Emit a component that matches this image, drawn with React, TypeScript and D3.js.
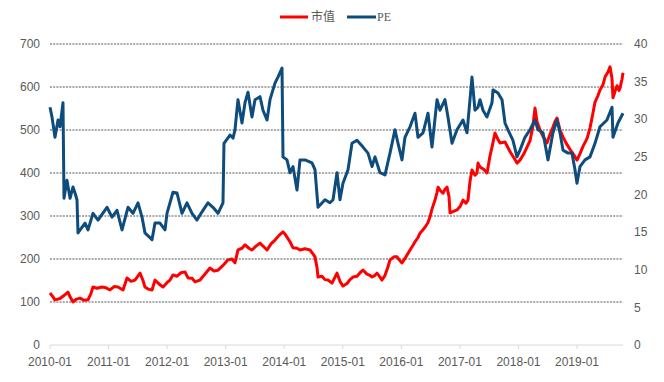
import React from "react";
import * as d3 from "d3";

const START_YEAR = 2010;
const yearTicks = [2010, 2011, 2012, 2013, 2014, 2015, 2016, 2017, 2018, 2019];
const leftTicks = [0, 100, 200, 300, 400, 500, 600, 700];
const rightTicks = [0, 5, 10, 15, 20, 25, 30, 35, 40];

// 市值 (years since 2010-01, value)
const mvT = [0, 0.051, 0.085, 0.171, 0.239, 0.307, 0.342, 0.393, 0.444, 0.512, 0.581, 0.649, 0.7, 0.734, 0.803, 0.888, 0.956, 1.025, 1.093, 1.161, 1.247, 1.315, 1.383, 1.452, 1.537, 1.588, 1.622, 1.674, 1.742, 1.793, 1.861, 1.93, 1.998, 2.049, 2.1, 2.169, 2.237, 2.305, 2.357, 2.425, 2.476, 2.562, 2.647, 2.732, 2.801, 2.869, 2.954, 3.04, 3.108, 3.159, 3.21, 3.279, 3.33, 3.398, 3.449, 3.518, 3.586, 3.654, 3.706, 3.774, 3.842, 3.911, 3.979, 4.013, 4.047, 4.098, 4.15, 4.218, 4.269, 4.355, 4.44, 4.491, 4.525, 4.56, 4.577, 4.645, 4.696, 4.747, 4.816, 4.867, 4.901, 4.952, 5.003, 5.072, 5.123, 5.174, 5.243, 5.294, 5.345, 5.413, 5.465, 5.499, 5.55, 5.584, 5.635, 5.67, 5.721, 5.772, 5.806, 5.874, 5.926, 5.977, 6.011, 6.079, 6.148, 6.199, 6.233, 6.284, 6.318, 6.37, 6.404, 6.455, 6.489, 6.523, 6.575, 6.609, 6.626, 6.66, 6.711, 6.745, 6.78, 6.814, 6.831, 6.882, 6.95, 7.002, 7.053, 7.104, 7.138, 7.172, 7.206, 7.258, 7.292, 7.309, 7.343, 7.411, 7.463, 7.514, 7.548, 7.599, 7.65, 7.685, 7.77, 7.855, 7.924, 7.975, 8.026, 8.094, 8.146, 8.197, 8.248, 8.282, 8.316, 8.368, 8.419, 8.487, 8.539, 8.59, 8.624, 8.658, 8.709, 8.76, 8.812, 8.88, 8.931, 9.0, 9.051, 9.102, 9.17, 9.222, 9.273, 9.307, 9.358, 9.392, 9.443, 9.478, 9.529, 9.563, 9.597, 9.614, 9.649, 9.683, 9.717, 9.734, 9.768, 9.785];
const mvV = [121, 112, 105, 108, 115, 123, 112, 100, 106, 109, 104, 105, 120, 135, 132, 135, 133, 128, 136, 135, 128, 156, 148, 151, 167, 150, 135, 130, 128, 151, 142, 135, 145, 151, 163, 160, 168, 170, 156, 155, 147, 151, 165, 179, 172, 174, 185, 198, 200, 191, 221, 225, 233, 225, 221, 230, 237, 228, 221, 235, 244, 255, 263, 258, 251, 240, 226, 225, 221, 224, 221, 212, 205, 180, 158, 160, 152, 151, 144, 158, 167, 148, 137, 143, 152, 158, 160, 168, 174, 165, 162, 158, 162, 167, 158, 151, 162, 182, 198, 205, 205, 196, 191, 205, 221, 232, 240, 250, 260, 268, 274, 285, 298, 316, 337, 355, 367, 360, 353, 362, 367, 345, 307, 310, 314, 322, 337, 330, 337, 380, 407, 395, 400, 423, 414, 408, 400, 440, 460, 493, 478, 470, 472, 450, 435, 423, 430, 445, 460, 475, 510, 551, 520, 500, 485, 470, 490, 507, 520, 528, 500, 484, 470, 455, 445, 430, 445, 462, 480, 505, 540, 565, 580, 593, 605, 623, 635, 647, 620, 575, 590, 603, 592, 598, 618, 633];

// PE (years since 2010-01, value)
const peT = [0, 0.034, 0.085, 0.137, 0.171, 0.222, 0.239, 0.29, 0.342, 0.393, 0.427, 0.461, 0.478, 0.598, 0.649, 0.734, 0.82, 0.973, 1.059, 1.144, 1.23, 1.332, 1.417, 1.503, 1.571, 1.622, 1.742, 1.793, 1.878, 1.964, 1.998, 2.1, 2.169, 2.254, 2.339, 2.425, 2.51, 2.596, 2.698, 2.783, 2.869, 2.954, 2.971, 3.074, 3.125, 3.159, 3.21, 3.279, 3.33, 3.381, 3.449, 3.501, 3.586, 3.637, 3.706, 3.757, 3.842, 3.893, 3.962, 3.979, 4.047, 4.098, 4.15, 4.218, 4.269, 4.355, 4.474, 4.525, 4.577, 4.696, 4.781, 4.833, 4.901, 4.952, 5.003, 5.089, 5.157, 5.242, 5.345, 5.43, 5.499, 5.55, 5.635, 5.721, 5.806, 5.891, 5.943, 6.011, 6.062, 6.148, 6.233, 6.284, 6.37, 6.455, 6.523, 6.609, 6.66, 6.745, 6.796, 6.865, 6.95, 7.052, 7.121, 7.172, 7.206, 7.257, 7.309, 7.343, 7.394, 7.462, 7.548, 7.565, 7.65, 7.719, 7.77, 7.821, 7.906, 7.975, 8.026, 8.111, 8.197, 8.282, 8.333, 8.419, 8.504, 8.589, 8.658, 8.709, 8.76, 8.846, 8.914, 8.965, 8.999, 9.05, 9.136, 9.221, 9.307, 9.392, 9.511, 9.597, 9.614, 9.699, 9.785];
const peV = [31.6, 30.3, 27.6, 29.9, 29.0, 32.2, 19.5, 21.9, 19.5, 21.0, 20.2, 19.3, 14.9, 16.2, 15.3, 17.5, 16.6, 18.3, 17.0, 17.9, 15.3, 18.3, 17.5, 18.9, 17.0, 14.9, 14.0, 16.2, 16.2, 15.3, 17.5, 20.3, 20.2, 17.5, 18.9, 17.5, 16.6, 17.7, 18.9, 18.3, 17.5, 18.9, 26.8, 27.9, 27.5, 28.6, 32.6, 29.5, 32.2, 33.6, 30.3, 32.6, 33.0, 31.2, 29.9, 32.6, 34.8, 35.6, 36.8, 25.0, 24.6, 22.9, 23.7, 20.6, 24.6, 24.6, 24.2, 23.3, 18.3, 19.3, 18.9, 19.3, 22.9, 19.3, 21.5, 23.3, 26.8, 27.2, 26.3, 25.5, 23.7, 25.0, 22.9, 22.6, 25.5, 28.6, 26.8, 24.6, 27.6, 29.0, 30.8, 27.6, 28.2, 30.8, 26.3, 32.6, 31.2, 32.6, 30.3, 26.8, 28.6, 29.9, 28.2, 32.6, 35.6, 31.2, 31.6, 32.6, 31.2, 30.3, 32.2, 33.9, 33.5, 32.6, 29.5, 28.6, 27.2, 25.0, 25.9, 27.6, 28.6, 29.9, 28.6, 28.2, 24.6, 28.2, 29.9, 28.2, 25.9, 25.5, 25.5, 23.3, 21.5, 23.7, 24.6, 25.0, 26.8, 29.0, 29.9, 31.6, 27.6, 29.5, 30.8];

const RED = "#FF0000";
const BLUE = "#0D4C7C";
const TEXT = "#595959";
const FONT = "'Liberation Sans', Arial, sans-serif";

export default function App() {
  const W = 664, H = 382;
  const left = 50, right = 623, top = 44, bottom = 345;
  const x = d3.scaleLinear().domain([0, 9.785]).range([left, right]);
  const yL = d3.scaleLinear().domain([0, 700]).range([bottom, top]);
  const yR = d3.scaleLinear().domain([0, 40]).range([bottom, top]);

  const mvData = mvT.map((t, i) => [t, mvV[i]] as [number, number]);
  const peData = peT.map((t, i) => [t, peV[i]] as [number, number]);
  const mvLine = d3.line<[number, number]>().x(d => x(d[0])).y(d => yL(d[1]));
  const peLine = d3.line<[number, number]>().x(d => x(d[0])).y(d => yR(d[1]));

  return (
    <svg width={W} height={H} style={{ position: "fixed", left: 0, top: 0, background: "#fff" }}>
      <rect width={W} height={H} fill="#fff" />
      {leftTicks.filter(v => v > 0).map(v => (
        <line key={"g" + v} x1={left} x2={right} y1={yL(v)} y2={yL(v)} stroke="#555" strokeWidth={1} strokeDasharray="2 1.2" />
      ))}
      <line x1={left} x2={right} y1={bottom} y2={bottom} stroke="#d9d9d9" strokeWidth={1} />
      {yearTicks.map(yr => (
        <line key={"t" + yr} x1={x(yr - START_YEAR)} x2={x(yr - START_YEAR)} y1={bottom} y2={bottom + 4} stroke="#d9d9d9" strokeWidth={1} />
      ))}
      {leftTicks.map(v => (
        <text key={"l" + v} x={40} y={yL(v)} dy="0.35em" textAnchor="end" fontSize={12} fill={TEXT} fontFamily={FONT}>{v}</text>
      ))}
      {rightTicks.map(v => (
        <text key={"r" + v} x={634} y={yR(v)} dy="0.35em" textAnchor="start" fontSize={12} fill={TEXT} fontFamily={FONT}>{v}</text>
      ))}
      {yearTicks.map(yr => (
        <text key={"x" + yr} x={x(yr - START_YEAR)} y={366} textAnchor="middle" fontSize={12} fill={TEXT} fontFamily={FONT}>{`${yr}-01`}</text>
      ))}
      <path d={mvLine(mvData) || ""} fill="none" stroke={RED} strokeWidth={3} strokeLinejoin="round" />
      <path d={peLine(peData) || ""} fill="none" stroke={BLUE} strokeWidth={3} strokeLinejoin="round" />
      <g>
        <line x1={280} x2={308} y1={17} y2={17} stroke={RED} strokeWidth={3} />
        <text x={311} y={21} fontSize={12} fill={TEXT} fontFamily="'Noto Sans CJK SC', sans-serif">市值</text>
        <line x1={347} x2={376} y1={17} y2={17} stroke={BLUE} strokeWidth={3} />
        <text x={377} y={21} fontSize={12} fill={TEXT} fontFamily="'Liberation Serif', serif">PE</text>
      </g>
    </svg>
  );
}
